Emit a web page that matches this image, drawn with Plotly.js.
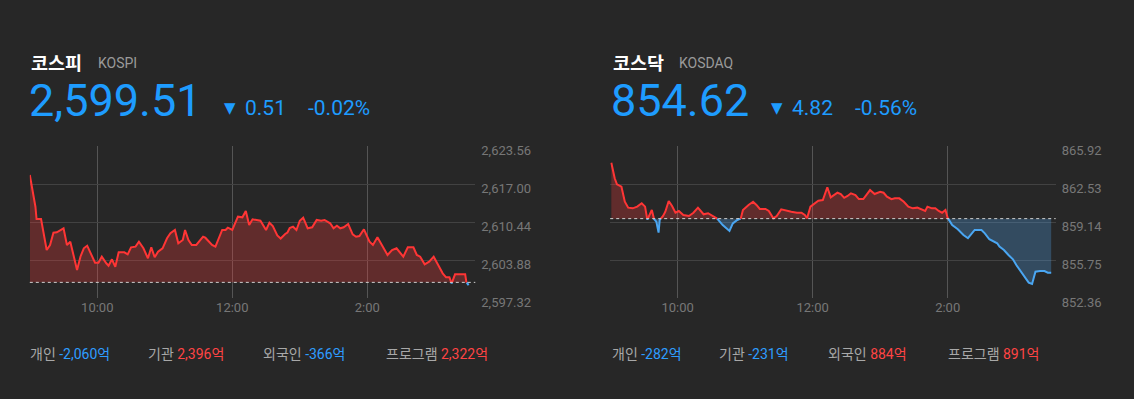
<!DOCTYPE html>
<html>
<head>
<meta charset="utf-8">
<script src="https://cdn.plot.ly/plotly-3.0.1.min.js"></script>
<style>
html,body{margin:0;padding:0;background:#272727;}
#chart{width:1134px;height:399px;}
</style>
</head>
<body>
<div id="chart"></div>
<script>
// ---------- data ----------
const timeTickVals = [60, 180, 300];           // minutes after 09:00
const timeTickText = ['10:00', '12:00', '2:00'];

const kospiMinutes = [0,5,6,10,15,18,21,24,30,33,36,42,45,48,51,55,58,61,64,68,70,73,76,79,84,87,90,94,97,101,105,108,111,114,118,122,125,129,132,136,138,141,144,148,154,156,162,165,171,174,176,180,185,189,192,195,198,205,210,213,216,220,223,227,229,231,234,237,240,243,247,251,255,259,262,267,270,273,276,279,283,287,290,293,297,302,305,309,314,318,322,326,332,336,341,344,347,351,355,359,363,367,370,373,375,378,382,387,388,390];
const kospiValues = [2618.55,2613.08,2610.96,2610.96,2605.61,2606.47,2608.59,2608.66,2609.35,2606.47,
  2607.04,2602.15,2604.45,2605.90,2606.35,2604.74,2603.41,2603.41,2604.45,2603.31,
  2602.90,2604.00,2602.72,2605.21,2605.21,2604.86,2606.07,2606.18,2607.04,2605.90,
  2604.17,2606.07,2604.35,2605.31,2605.90,2607.63,2608.49,2609.06,2606.76,2607.33,
  2609.06,2607.33,2606.47,2606.47,2607.90,2607.73,2606.47,2606.18,2609.06,2609.06,
  2609.46,2609.06,2611.36,2611.25,2612.34,2609.92,2610.91,2610.66,2609.06,2610.32,
  2609.75,2608.11,2607.59,2608.37,2608.63,2609.40,2609.63,2609.06,2610.66,2611.18,
  2609.35,2609.52,2610.79,2610.66,2610.79,2610.22,2609.35,2609.80,2609.35,2609.52,
  2610.09,2608.32,2607.90,2608.02,2609.18,2607.04,2606.47,2607.80,2606.18,2604.74,
  2605.61,2605.90,2604.45,2606.07,2606.07,2604.74,2604.45,2603.14,2603.59,2604.45,
  2603.02,2601.58,2600.89,2600.89,2599.85,2601.41,2601.41,2601.41,2600.13,2599.51];
const kospiPrevClose = 2600.02;
const kospiTicks = [2597.32, 2603.88, 2610.44, 2617.00, 2623.56];

const kosdaqMinutes = [1,4,6,10,13,16,20,24,28,31,33,37,39,41,43,44,47,49,52,55,58,61,65,70,74,78,83,87,92,95,100,106,109,113,116,118,123,127,130,133,138,141,145,148,152,157,161,166,170,173,175,178,182,185,189,193,196,199,202,205,208,211,214,218,221,225,228,231,235,240,243,246,250,253,257,261,265,269,273,276,280,282,286,289,292,295,298,300,304,309,314,318,321,324,330,333,337,341,344,346,350,354,358,361,365,369,372,375,378,382,386,389,392];
const kosdaqValues = [864.43,863.04,862.50,862.29,860.95,860.42,860.36,860.51,860.81,860.51,
  859.35,860.21,859.40,859.17,858.19,859.32,859.68,860.06,861.01,860.57,
  859.97,860.12,859.76,859.68,859.97,860.42,859.83,859.92,859.61,859.45,
  858.87,858.34,859.02,859.32,859.44,860.21,860.66,860.95,860.66,860.30,
  860.30,860.12,859.47,859.68,860.27,860.12,860.06,859.97,859.97,859.76,
  859.47,860.51,860.86,861.04,861.10,862.24,861.34,861.55,861.75,861.64,
  861.30,861.46,861.70,861.55,861.19,861.19,861.55,861.99,861.64,861.84,
  861.75,861.40,861.17,861.25,861.25,860.95,860.51,860.36,860.42,860.30,
  860.12,860.51,860.36,860.36,860.12,859.97,860.21,859.50,858.87,858.49,
  857.98,857.69,858.07,858.43,858.43,858.13,857.60,857.38,857.24,856.94,
  856.64,856.20,855.81,855.30,854.71,854.12,853.73,853.61,854.71,854.77,
  854.77,854.62,854.62];
const kosdaqPrevClose = 859.44;
const kosdaqTicks = [852.36, 855.75, 859.14, 862.53, 865.92];

const indexNames = ['코스피', '코스닥'];
const indexCodes = ['KOSPI', 'KOSDAQ'];
const indexPrices = ['2,599.51', '854.62'];
const indexChanges = ['0.51', '4.82'];
const indexRates = ['-0.02%', '-0.56%'];

const investorLabels = ['개인', '기관', '외국인', '프로그램'];
const kospiInvestors = [-2060, 2396, -366, 2322];
const kosdaqInvestors = [-282, -231, 884, 891];

// ---------- styles ----------
const BG = '#272727';
const RED = '#ff3535';
const BLUE = '#4aa6f2';
const RED_FILL = 'rgba(255,60,60,0.27)';
const BLUE_FILL = 'rgba(80,160,230,0.30)';
const PRICE_BLUE = '#1e9cff';
const W = 1134, H = 399;
const px = v => v / W;
const py = v => 1 - v / H;

function split(mins, vals, base) {
  const xs = [], ys = [];
  for (let i = 0; i < mins.length; i++) {
    if (i > 0 && (vals[i - 1] - base) * (vals[i] - base) < 0) {
      const f = (base - vals[i - 1]) / (vals[i] - vals[i - 1]);
      xs.push(mins[i - 1] + f * (mins[i] - mins[i - 1]));
      ys.push(base);
    }
    xs.push(mins[i]); ys.push(vals[i]);
  }
  return {
    xs,
    upLine: ys.map(v => v >= base ? v : null),
    dnLine: ys.map(v => v <= base ? v : null),
    upFill: ys.map(v => Math.max(v, base)),
    dnFill: ys.map(v => Math.min(v, base)),
    base: ys.map(() => base)
  };
}

function traces(mins, vals, base, xa, ya) {
  const s = split(mins, vals, base);
  const common = {xaxis: xa, yaxis: ya, mode: 'lines', hoverinfo: 'skip', type: 'scatter'};
  return [
    Object.assign({}, common, {x: s.xs, y: s.base, line: {width: 0}}),
    Object.assign({}, common, {x: s.xs, y: s.upFill, line: {width: 0}, fill: 'tonexty', fillcolor: RED_FILL}),
    Object.assign({}, common, {x: s.xs, y: s.base, line: {width: 0}}),
    Object.assign({}, common, {x: s.xs, y: s.dnFill, line: {width: 0}, fill: 'tonexty', fillcolor: BLUE_FILL}),
    Object.assign({}, common, {x: s.xs, y: s.dnLine, line: {color: BLUE, width: 2}, connectgaps: false}),
    Object.assign({}, common, {x: s.xs, y: s.upLine, line: {color: RED, width: 2}, connectgaps: false})
  ];
}

const data = [].concat(
  traces(kospiMinutes, kospiValues, kospiPrevClose, 'x', 'y'),
  traces(kosdaqMinutes, kosdaqValues, kosdaqPrevClose, 'x2', 'y2')
);

const xBase = {
  range: [0, 396], tickmode: 'array', tickvals: timeTickVals, ticktext: timeTickText,
  showgrid: true, gridcolor: '#555555', gridwidth: 1, zeroline: false, showline: false,
  ticks: '', tickfont: {family: 'Roboto', size: 13, color: '#777777'}, fixedrange: true
};
const yBase = {
  side: 'right', tickmode: 'array', showgrid: true, gridcolor: '#424242', gridwidth: 1,
  zeroline: false, showline: false, ticks: '', tickformat: ',.2f',
  tickfont: {family: 'Roboto', size: 13, color: '#777777'}, ticklabelstandoff: 5,
  ticklabelshift: 4, fixedrange: true
};

const kospiLeft = 29.8, kosdaqLeft = 610.2, plotW = 396 * 1.125;
const layout = {
  width: W, height: H,
  paper_bgcolor: BG, plot_bgcolor: BG,
  margin: {l: 0, r: 0, t: 0, b: 0},
  showlegend: false,
  xaxis: Object.assign({}, xBase, {domain: [px(kospiLeft), px(kospiLeft + plotW)], anchor: 'y'}),
  yaxis: Object.assign({}, yBase, {domain: [py(298), py(146)], range: [kospiTicks[0], kospiTicks[4]], tickvals: kospiTicks, anchor: 'x'}),
  xaxis2: Object.assign({}, xBase, {domain: [px(kosdaqLeft), px(kosdaqLeft + plotW)], anchor: 'y2'}),
  yaxis2: Object.assign({}, yBase, {domain: [py(298), py(146)], range: [kosdaqTicks[0], kosdaqTicks[4]], tickvals: kosdaqTicks, anchor: 'x2'}),
  shapes: [
    {type: 'line', xref: 'x domain', yref: 'y', x0: 0, x1: 1, y0: kospiPrevClose, y1: kospiPrevClose,
     line: {color: '#d0d0d0', width: 1, dash: '3px,3px'}, layer: 'above'},
    {type: 'line', xref: 'x2 domain', yref: 'y2', x0: 0, x1: 1, y0: kosdaqPrevClose, y1: kosdaqPrevClose,
     line: {color: '#d0d0d0', width: 1, dash: '3px,3px'}, layer: 'above'}
  ],
  annotations: []
};

function fmt(n) {
  const s = Math.abs(n).toLocaleString('en-US');
  return (n < 0 ? '-' : '') + s + '억';
}

function header(i, left, codeX, triX, chgX, rateX) {
  const A = layout.annotations;
  const base = {xref: 'paper', yref: 'paper', showarrow: false, xanchor: 'left', yanchor: 'middle'};
  A.push(Object.assign({}, base, {x: px(left - 1), y: py(62), text: '<b>' + indexNames[i] + '</b>',
    font: {family: 'Noto Sans CJK KR', size: 18.5, color: '#ffffff'}}));
  A.push(Object.assign({}, base, {x: px(codeX), y: py(63), text: indexCodes[i],
    font: {family: 'Roboto', size: 14, color: '#9a9a9a'}}));
  A.push(Object.assign({}, base, {x: px(left - 3), y: py(101), text: indexPrices[i],
    font: {family: 'Roboto', size: 45, color: PRICE_BLUE}}));
  A.push(Object.assign({}, base, {x: px(triX), y: py(108), text: '▼',
    font: {family: 'DejaVu Sans', size: 15, color: PRICE_BLUE}}));
  A.push(Object.assign({}, base, {x: px(chgX), y: py(108), text: indexChanges[i],
    font: {family: 'Roboto', size: 21, color: PRICE_BLUE}}));
  A.push(Object.assign({}, base, {x: px(rateX), y: py(108), text: indexRates[i],
    font: {family: 'Roboto', size: 21, color: PRICE_BLUE}}));
}
header(0, 30, 96, 222, 243, 306);
header(1, 612, 677, 769, 790, 853);

function investors(vals, xs) {
  vals.forEach((v, k) => {
    const c = v < 0 ? '#2e9dff' : '#ff4444';
    layout.annotations.push({
      xref: 'paper', yref: 'paper', showarrow: false, xanchor: 'left', yanchor: 'middle',
      x: px(xs[k]), y: py(354),
      text: investorLabels[k] + ' <span style="color:' + c + '">' + fmt(v) + '</span>',
      font: {family: 'Roboto, Noto Sans CJK KR', size: 14, color: '#a8a8a8'}
    });
  });
}
investors(kospiInvestors, [28, 146, 261, 384]);
investors(kosdaqInvestors, [610, 717, 826, 946]);

Plotly.newPlot('chart', data, layout, {staticPlot: true, displayModeBar: false});
</script>
</body>
</html>
